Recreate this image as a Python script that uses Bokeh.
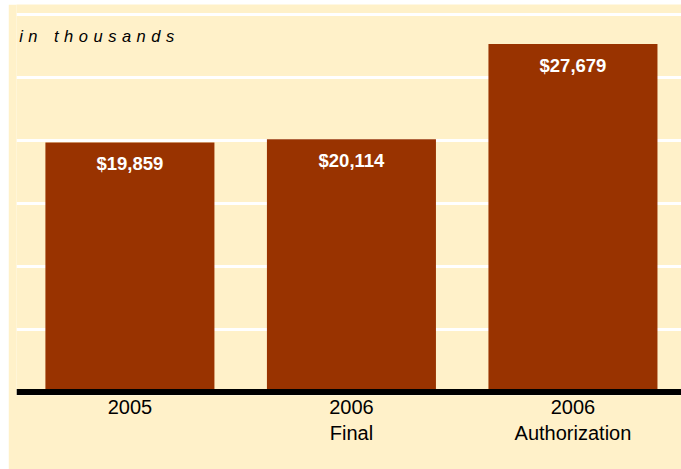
from bokeh.plotting import figure
from bokeh.models import Range1d, FixedTicker, Span, Label, ColumnDataSource, Spacer
from bokeh.layouts import column, row
from bokeh.core.properties import value
from bokeh.embed import file_html
from bokeh.resources import INLINE

categories = ["2005", "2006 Final", "2006 Authorization"]
tick_labels = ["2005", "2006\nFinal", "2006\nAuthorization"]
amounts = [19859, 20114, 27679]
bar_labels = ["$19,859", "$20,114", "$27,679"]
grid_ticks = [5000, 10000, 15000, 20000, 25000, 30000]

CREAM = "#FFF1C9"
BAR = "#993300"
FONT = "Liberation Sans"

xs = list(range(len(categories)))
src = ColumnDataSource(dict(x=xs, top=amounts, lab=bar_labels))

p = figure(width=673, height=465, output_backend="svg", toolbar_location=None,
           x_range=Range1d(-0.512, 2.49), y_range=Range1d(-280, 30830),
           y_axis_location=None, min_border_left=8, min_border_right=0,
           min_border_top=0, min_border_bottom=74)
p.background_fill_color = CREAM
p.border_fill_color = CREAM
p.outline_line_color = None

p.xgrid.visible = False
p.ygrid.ticker = FixedTicker(ticks=grid_ticks)
p.ygrid.grid_line_color = "white"
p.ygrid.grid_line_width = 3

p.vbar(x="x", top="top", bottom=0, width=0.763, source=src,
       fill_color=BAR, line_color=None)

p.add_layout(Span(location=0, dimension="width", line_color="black", line_width=6))

p.text(x="x", y="top", text="lab", source=src, text_color="white",
       text_font=value(FONT), text_font_style="bold", text_font_size="18.5px",
       text_align="center", text_baseline="middle", y_offset=21)

p.xaxis.ticker = FixedTicker(ticks=xs)
p.xaxis.major_label_overrides = {i: t for i, t in zip(xs, tick_labels)}
p.xaxis.axis_line_color = None
p.xaxis.major_tick_line_color = None
p.xaxis.minor_tick_line_color = None
p.xaxis.major_tick_out = 0
p.xaxis.major_tick_in = 0
p.xaxis.major_label_standoff = 0
p.xaxis.major_label_text_font = FONT
p.xaxis.major_label_text_font_size = "20px"
p.xaxis.major_label_text_color = "black"
p.xaxis.major_label_text_line_height = 1.22

p.add_layout(Label(x=-0.5, y=28360, text="i\u2004n\u2004\u2004\u2004t\u2004h\u2004o\u2004u\u2004s\u2004a\u2004n\u2004d\u2004s",
                   text_font=FONT, text_font_style="italic", text_font_size="16.5px",
                   text_color="black", text_baseline="middle", text_align="left"))

layout = column(Spacer(height=4, width=681), row(Spacer(width=8, height=465), p))
open("out.html", "w").write(file_html(layout, INLINE))
